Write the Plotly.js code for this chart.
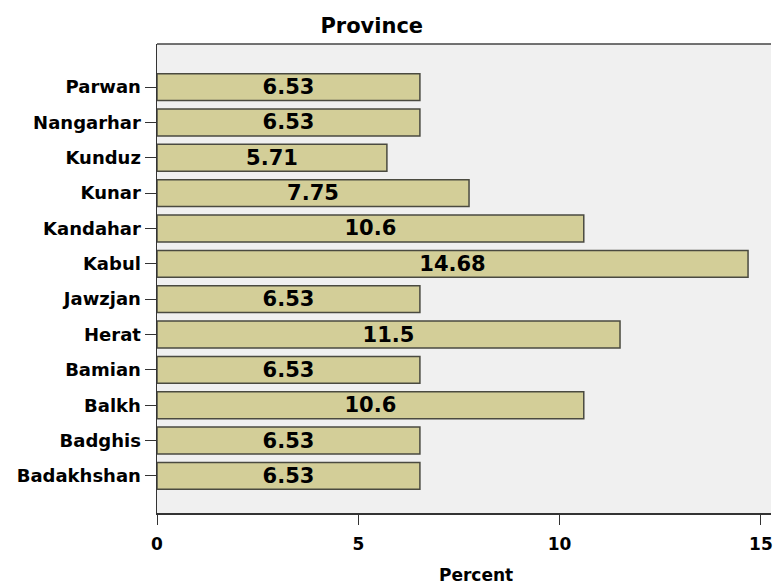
<!DOCTYPE html>
<html>
<head>
<meta charset="utf-8">
<script src="https://cdn.plot.ly/plotly-3.0.1.min.js"></script>
<style>html,body{margin:0;padding:0;background:#fff;}</style>
</head>
<body>
<div id="chart" style="width:781px;height:585px;"></div>
<script>
const provinces = ["Badakhshan","Badghis","Balkh","Bamian","Herat","Jawzjan","Kabul","Kandahar","Kunar","Kunduz","Nangarhar","Parwan"];
const percents = [6.53, 6.53, 10.6, 6.53, 11.5, 6.53, 14.68, 10.6, 7.75, 5.71, 6.53, 6.53];
const xTicks = [0, 5, 10, 15];

const fontFam = "'DejaVu Sans', Arial, sans-serif";

const trace = {
  type: 'bar',
  orientation: 'h',
  y: provinces,
  x: percents,
  width: 0.76,
  marker: {color: '#d3ce98', line: {color: '#4a4a40', width: 1.5}},
  text: percents.map(String),
  textposition: 'inside',
  insidetextanchor: 'middle',
  constraintext: 'none',
  textfont: {family: fontFam, size: 21, color: '#000', weight: 'bold'},
  hoverinfo: 'none'
};

const layout = {
  width: 781, height: 585,
  margin: {l: 157, r: 10, t: 44, b: 72},
  paper_bgcolor: '#ffffff',
  plot_bgcolor: '#f0f0f0',
  showlegend: false,
  title: {text: 'Province', font: {family: fontFam, size: 21, color: '#000', weight: 'bold'},
          x: 0.476, xref: 'container', xanchor: 'center', y: 0.957, yref: 'container', yanchor: 'middle'},
  xaxis: {
    range: [0, 15.25], tickvals: xTicks, ticktext: xTicks.map(String),
    showgrid: false, zeroline: false,
    showline: true, linecolor: '#333', linewidth: 1.5, mirror: false,
    ticks: 'outside', ticklen: 10, tickcolor: '#333', tickwidth: 1,
    ticklabelstandoff: 5,
    tickfont: {family: fontFam, size: 17, color: '#000', weight: 'bold'}
  },
  yaxis: {
    type: 'category', categoryorder: 'array', categoryarray: provinces,
    range: [-1.05, 12.22],
    showgrid: false, zeroline: false,
    showline: true, linecolor: '#333', linewidth: 1.5,
    ticks: 'outside', ticklen: 11, tickcolor: '#333', tickwidth: 1,
    tickfont: {family: fontFam, size: 18, color: '#000', weight: 'bold'}
  },
  annotations: [{text: 'Percent', xref: 'paper', yref: 'paper', x: 0.52, y: -0.132,
                 xanchor: 'center', yanchor: 'middle', showarrow: false,
                 font: {family: fontFam, size: 17, color: '#000', weight: 'bold'}}],
  shapes: [{type: 'line', xref: 'paper', yref: 'paper', x0: 0, x1: 1, y0: 1, y1: 1,
            line: {color: '#444', width: 1.5}}]
};

Plotly.newPlot('chart', [trace], layout, {displayModeBar: false, staticPlot: true});
</script>
</body>
</html>
